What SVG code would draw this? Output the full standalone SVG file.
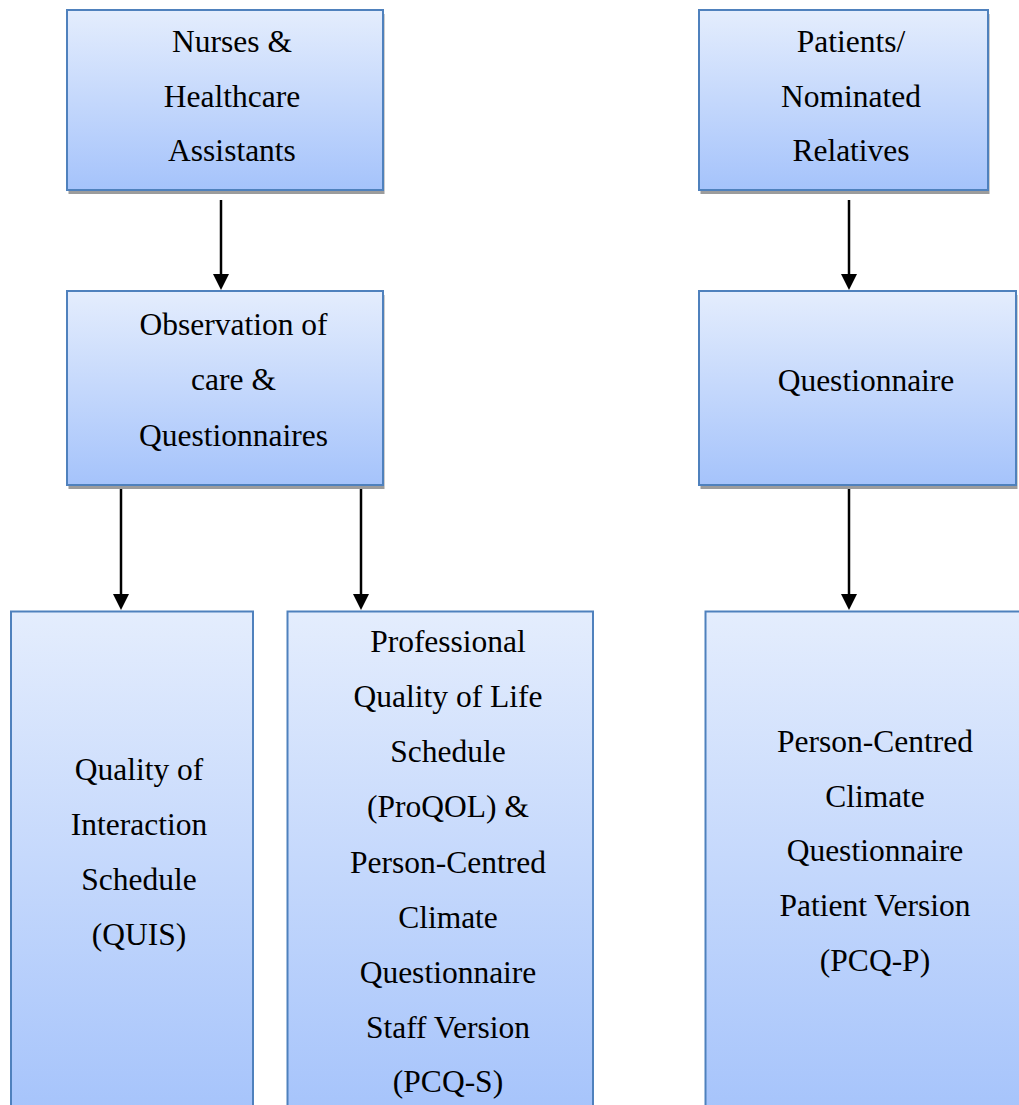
<svg xmlns="http://www.w3.org/2000/svg" width="1019" height="1105" viewBox="0 0 1019 1105">
<defs>
<linearGradient id="g" x1="0" y1="0" x2="0" y2="1">
<stop offset="0" stop-color="#E4EDFD"/>
<stop offset="1" stop-color="#A5C3FB"/>
</linearGradient>
<marker id="ah" viewBox="0 0 16 16" refX="9" refY="8" markerWidth="16" markerHeight="16" markerUnits="userSpaceOnUse" orient="auto">
<path d="M0,0 L16,8 L0,16 z" fill="#000"/>
</marker>
<style>
.box{fill:url(#g);stroke:#4F81BD;stroke-width:2}
.sh{fill:#9C9C9C}
.t{font-family:"Liberation Serif","Times New Roman",serif;font-size:31.5px;fill:#000;text-anchor:middle}
.c{stroke:#000;stroke-width:2.5;fill:none;marker-end:url(#ah)}
</style>
</defs>
<rect width="1019" height="1105" fill="#fff"/>
<g id="connectors">
<line class="c" x1="221" y1="200" x2="221" y2="283"/>
<line class="c" x1="849" y1="200" x2="849" y2="283"/>
<line class="c" x1="121" y1="485" x2="121" y2="603"/>
<line class="c" x1="361" y1="485" x2="361" y2="603"/>
<line class="c" x1="849" y1="485" x2="849" y2="603"/>
</g>
<g id="nurses">
<rect class="sh" x="68.5" y="14" width="316" height="180"/>
<rect class="box" x="67" y="10" width="316" height="180"/>
<text class="t" x="232" y="52">Nurses &amp;</text>
<text class="t" x="232" y="106.5">Healthcare</text>
<text class="t" x="232" y="161">Assistants</text>
</g>
<g id="patients">
<rect class="sh" x="700.5" y="14" width="289" height="180"/>
<rect class="box" x="699" y="10" width="289" height="180"/>
<text class="t" x="851" y="52">Patients/</text>
<text class="t" x="851" y="106.5">Nominated</text>
<text class="t" x="851" y="161">Relatives</text>
</g>
<g id="observation">
<rect class="sh" x="68.5" y="295" width="316" height="194"/>
<rect class="box" x="67" y="291" width="316" height="194"/>
<text class="t" x="233.5" y="334.5">Observation of</text>
<text class="t" x="233.5" y="390">care &amp;</text>
<text class="t" x="233.5" y="446">Questionnaires</text>
</g>
<g id="questionnaire">
<rect class="sh" x="700.5" y="295" width="317" height="194"/>
<rect class="box" x="699" y="291" width="317" height="194"/>
<text class="t" x="866" y="391">Questionnaire</text>
</g>
<g id="quis">
<rect class="box" x="11" y="611.5" width="242" height="510"/>
<text class="t" x="139" y="780">Quality of</text>
<text class="t" x="139" y="835">Interaction</text>
<text class="t" x="139" y="890">Schedule</text>
<text class="t" x="139" y="945">(QUIS)</text>
</g>
<g id="proqol">
<rect class="box" x="287.5" y="611.5" width="305.5" height="510"/>
<text class="t" x="448" y="652">Professional</text>
<text class="t" x="448" y="707">Quality of Life</text>
<text class="t" x="448" y="762">Schedule</text>
<text class="t" x="448" y="817">(ProQOL) &amp;</text>
<text class="t" x="448" y="872.5">Person-Centred</text>
<text class="t" x="448" y="928">Climate</text>
<text class="t" x="448" y="983">Questionnaire</text>
<text class="t" x="448" y="1037.5">Staff Version</text>
<text class="t" x="448" y="1092">(PCQ-S)</text>
</g>
<g id="pcqp">
<rect class="box" x="705.5" y="611.5" width="326" height="510"/>
<text class="t" x="875" y="752">Person-Centred</text>
<text class="t" x="875" y="806.5">Climate</text>
<text class="t" x="875" y="861">Questionnaire</text>
<text class="t" x="875" y="916">Patient Version</text>
<text class="t" x="875" y="971">(PCQ-P)</text>
</g>
</svg>
